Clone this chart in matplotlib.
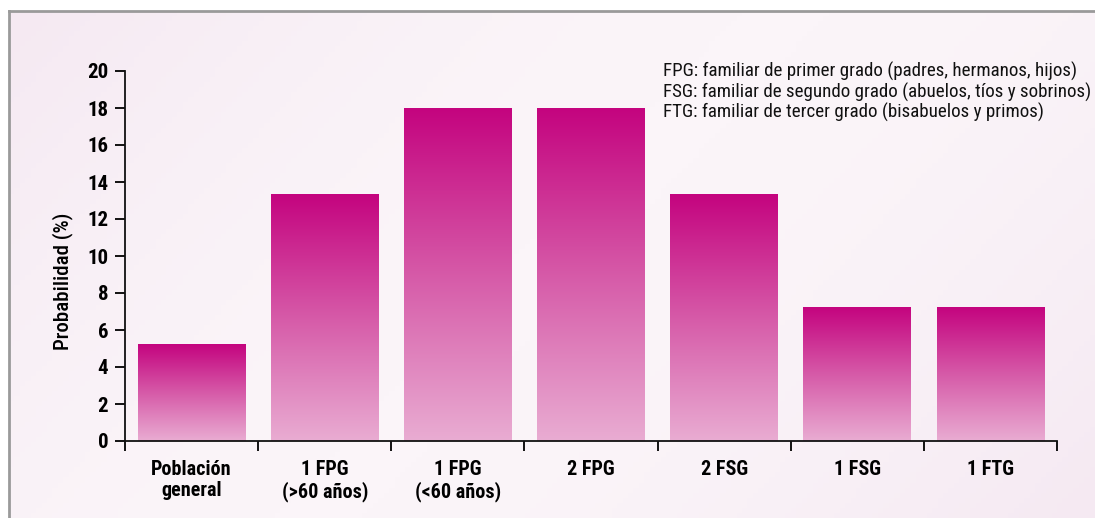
import matplotlib
matplotlib.use("Agg")
import matplotlib.pyplot as plt
import numpy as np
from matplotlib.colors import LinearSegmentedColormap

categories = ["Población\ngeneral", "1 FPG\n(>60 años)", "1 FPG\n(<60 años)", "2 FPG", "2 FSG", "1 FSG", "1 FTG"]
values = [5.2, 13.3, 18.0, 18.0, 13.3, 7.2, 7.2]
yticks = [0, 2, 4, 6, 8, 10, 12, 14, 16, 18, 20]
legend_lines = [
    "FPG: familiar de primer grado (padres, hermanos, hijos)",
    "FSG: familiar de segundo grado (abuelos, tíos y sobrinos)",
    "FTG: familiar de tercer grado (bisabuelos y primos)",
]

plt.rcParams['font.family'] = ['Roboto Condensed', 'DejaVu Sans']

W, H = 1095, 518
fig = plt.figure(figsize=(W / 100, H / 100), dpi=100)
fig.patch.set_facecolor("white")

# background frame
bg = fig.add_axes([9 / W, 0, 1 - 9 / W, 1 - 11 / H])
gx = np.linspace(0, 1, 200)
gy = np.linspace(0, 1, 100)
X, Y = np.meshgrid(gx, gy)
t = np.clip(0.7 * X + 0.3 * (1 - Y), 0, 1)
t = np.sin(np.pi * t)
bgcmap = LinearSegmentedColormap.from_list("bg", ["#F5E9F2", "#FBF5F9"])
bg.imshow(t, cmap=bgcmap, aspect="auto", extent=(0, 1, 0, 1), origin="lower")
bg.set_xticks([]); bg.set_yticks([])
for s in ["right", "bottom"]:
    bg.spines[s].set_visible(False)
for s in ["left", "top"]:
    bg.spines[s].set_color("#9A9A9A")
    bg.spines[s].set_linewidth(2)

ax = fig.add_axes([125 / W, 1 - 441 / H, (1057 - 125) / W, (441 - 71) / H])
ax.patch.set_alpha(0)

barcmap = LinearSegmentedColormap.from_list("bar", ["#E9ACD2", "#D65AA8", "#C4047F"])
grad = np.linspace(0, 1, 256).reshape(-1, 1)
w = 0.81
for i, v in enumerate(values):
    ax.imshow(grad, cmap=barcmap, aspect="auto", origin="lower",
              extent=(i - w / 2, i + w / 2, 0, v), zorder=2)
ax.set_xlim(-0.5, len(categories) - 0.5)
ax.set_ylim(0, 20)

for s in ["top", "right"]:
    ax.spines[s].set_visible(False)
for s in ["left", "bottom"]:
    ax.spines[s].set_linewidth(1.3)
    ax.spines[s].set_color("#111111")

ax.set_yticks(yticks)
ax.set_yticklabels([str(v) for v in yticks], fontsize=15, fontweight="bold")
ax.tick_params(axis="y", length=7, width=1.3, pad=5)

ax.set_xticks(np.arange(-0.5, len(categories), 1.0))
ax.set_xticklabels([])
ax.tick_params(axis="x", which="major", length=7, width=1.3)
ax.set_xticks(np.arange(len(categories)), minor=True)
ax.set_xticklabels(categories, minor=True, fontsize=14.5, fontweight="bold", linespacing=1.12)
ax.tick_params(axis="x", which="minor", length=0, pad=14)

ax.set_ylabel("Probabilidad (%)", fontsize=15, fontweight="medium")
ax.yaxis.set_label_coords(-0.056, (441 - 281) / 370)

fig.text(663 / W, 1 - 62 / H, "\n".join(legend_lines), fontsize=13.7, va="top", ha="left",
         linespacing=1.08, color="#111111")

fig.savefig("out.png", dpi=100)
